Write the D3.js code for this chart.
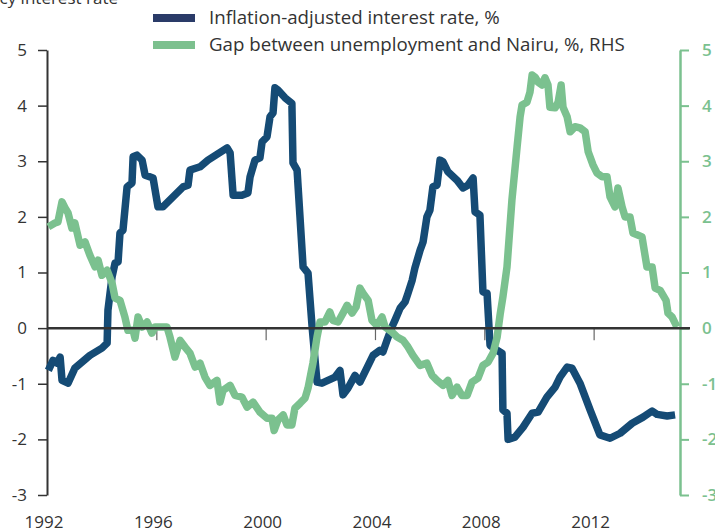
<!DOCTYPE html>
<html>
<head>
<meta charset="utf-8">
<script src="https://cdn.jsdelivr.net/npm/d3@7"></script>
<style>
  body { margin: 0; background: #fff; }
  svg { font-family: "Open Sans", sans-serif; }
</style>
</head>
<body>
<div id="chart"></div>
<script>
// Inflation-adjusted interest rate, % (left axis), decimal years
var rateDates = [1992.05, 1992.22, 1992.37, 1992.48, 1992.55, 1992.77, 1993.02, 1993.57, 1994.01, 1994.20,
  1994.23, 1994.38, 1994.49, 1994.60, 1994.67, 1994.78, 1994.93, 1995.11, 1995.15, 1995.29,
  1995.48, 1995.59, 1995.88, 1996.06, 1996.24, 1996.98, 1997.16, 1997.23, 1997.60, 1997.89,
  1998.59, 1998.70, 1998.81, 1999.13, 1999.35, 1999.43, 1999.61, 1999.79, 1999.87, 2000.05,
  2000.16, 2000.27, 2000.34, 2000.45, 2000.71, 2000.96, 2001.00, 2001.15, 2001.37, 2001.55,
  2001.70, 2001.88, 2002.06, 2002.28, 2002.54, 2002.72, 2002.83, 2003.01, 2003.27, 2003.45,
  2003.93, 2004.18, 2004.29, 2004.44, 2004.62, 2004.73, 2004.92, 2005.10, 2005.21, 2005.36,
  2005.46, 2005.65, 2005.76, 2005.90, 2006.01, 2006.12, 2006.27, 2006.38, 2006.49, 2006.67,
  2007.00, 2007.22, 2007.40, 2007.59, 2007.66, 2007.84, 2007.95, 2008.10, 2008.21, 2008.47,
  2008.65, 2008.68, 2008.83, 2008.87, 2009.12, 2009.42, 2009.75, 2009.97, 2010.29, 2010.59,
  2010.77, 2011.03, 2011.21, 2011.50, 2011.87, 2012.23, 2012.60, 2012.97, 2013.41, 2013.81,
  2014.14, 2014.32, 2014.69, 2014.98];
var rateValues = [-0.76, -0.58, -0.63, -0.52, -0.94, -0.99, -0.72, -0.49, -0.36, -0.27,
  0.32, 0.92, 1.17, 1.19, 1.71, 1.76, 2.54, 2.61, 3.08, 3.11,
  3.02, 2.75, 2.70, 2.18, 2.18, 2.54, 2.57, 2.84, 2.90, 3.02,
  3.24, 3.15, 2.39, 2.39, 2.43, 2.72, 3.02, 3.06, 3.35, 3.44,
  3.80, 3.87, 4.32, 4.28, 4.14, 4.04, 2.97, 2.84, 1.10, 0.99,
  0.02, -0.97, -0.99, -0.94, -0.88, -0.76, -1.20, -1.08, -0.85, -0.97,
  -0.49, -0.40, -0.43, -0.22, 0.02, 0.14, 0.36, 0.47, 0.63, 0.86,
  1.08, 1.40, 1.55, 2.00, 2.12, 2.54, 2.57, 3.02, 2.99, 2.81,
  2.66, 2.52, 2.57, 2.70, 2.09, 2.03, 0.65, 0.63, -0.31, -0.40,
  -0.45, -1.47, -1.53, -2.00, -1.96, -1.78, -1.53, -1.51, -1.24, -1.06,
  -0.88, -0.70, -0.72, -0.99, -1.47, -1.92, -1.98, -1.89, -1.71, -1.60,
  -1.49, -1.55, -1.58, -1.56];

// Gap between unemployment and Nairu, % (right axis)
var gapDates = [1992.05, 1992.29, 1992.40, 1992.55, 1992.66, 1992.77, 1992.91, 1993.02, 1993.21, 1993.39,
  1993.57, 1993.76, 1993.87, 1994.01, 1994.20, 1994.38, 1994.49, 1994.67, 1994.85, 1994.96,
  1995.15, 1995.22, 1995.33, 1995.48, 1995.66, 1995.84, 1995.95, 1996.21, 1996.39, 1996.50,
  1996.68, 1996.87, 1997.05, 1997.23, 1997.42, 1997.60, 1997.78, 1997.96, 1998.22, 1998.33,
  1998.44, 1998.70, 1998.88, 1999.13, 1999.32, 1999.54, 1999.79, 2000.05, 2000.23, 2000.31,
  2000.45, 2000.64, 2000.78, 2000.96, 2001.07, 2001.26, 2001.44, 2001.55, 2001.73, 2001.88,
  2001.99, 2002.17, 2002.35, 2002.46, 2002.65, 2002.83, 2002.98, 2003.16, 2003.31, 2003.45,
  2003.56, 2003.75, 2003.89, 2004.07, 2004.26, 2004.37, 2004.62, 2004.81, 2005.03, 2005.21,
  2005.39, 2005.65, 2005.90, 2006.09, 2006.27, 2006.49, 2006.67, 2006.82, 2007.00, 2007.18,
  2007.37, 2007.55, 2007.77, 2007.95, 2008.14, 2008.32, 2008.47, 2008.58, 2008.68, 2008.83,
  2009.01, 2009.20, 2009.31, 2009.38, 2009.56, 2009.67, 2009.75, 2009.86, 2009.97, 2010.11,
  2010.22, 2010.33, 2010.40, 2010.59, 2010.70, 2010.81, 2010.88, 2011.03, 2011.14, 2011.32,
  2011.50, 2011.69, 2011.80, 2011.98, 2012.12, 2012.31, 2012.49, 2012.60, 2012.78, 2012.89,
  2013.04, 2013.15, 2013.33, 2013.44, 2013.77, 2013.95, 2014.14, 2014.25, 2014.43, 2014.65,
  2014.72, 2014.87, 2014.98, 2015.05];
var gapValues = [1.82, 1.89, 1.91, 2.27, 2.16, 2.07, 1.80, 1.89, 1.49, 1.55,
  1.31, 1.10, 1.22, 0.95, 1.04, 0.81, 0.54, 0.50, 0.20, -0.04,
  -0.04, -0.18, 0.20, 0.02, 0.11, -0.09, 0.02, 0.02, 0.02, -0.16,
  -0.52, -0.22, -0.34, -0.45, -0.70, -0.63, -0.88, -1.03, -0.94, -1.33,
  -1.12, -1.03, -1.21, -1.24, -1.42, -1.33, -1.51, -1.62, -1.62, -1.84,
  -1.65, -1.56, -1.74, -1.74, -1.44, -1.35, -1.26, -1.08, -0.63, -0.16,
  0.11, 0.11, 0.29, 0.14, 0.11, 0.27, 0.41, 0.27, 0.38, 0.72,
  0.63, 0.50, 0.14, 0.05, 0.20, 0.02, -0.07, -0.16, -0.22, -0.34,
  -0.49, -0.67, -0.63, -0.85, -0.94, -1.03, -0.94, -1.21, -1.06, -1.21,
  -1.21, -0.97, -0.90, -0.67, -0.61, -0.45, -0.16, 0.25, 0.56, 1.10,
  2.30, 3.26, 3.80, 4.01, 4.06, 4.24, 4.55, 4.51, 4.42, 4.37,
  4.50, 4.37, 3.97, 3.96, 4.06, 4.37, 3.97, 3.80, 3.53, 3.62,
  3.60, 3.53, 3.17, 2.93, 2.79, 2.72, 2.72, 2.36, 2.18, 2.52,
  2.18, 2.00, 2.00, 1.71, 1.64, 1.10, 1.10, 0.72, 0.68, 0.50,
  0.27, 0.20, 0.09, 0.02];

var yearTicks = [1992, 1996, 2000, 2004, 2008, 2012];
var valueTicks = [-3, -2, -1, 0, 1, 2, 3, 4, 5];
var seriesNames = ["Inflation-adjusted interest rate, %", "Gap between unemployment and Nairu, %, RHS"];

function drawChart() {
    var width = 715, height = 532;
    var blue = "#154b75", green = "#7bc18f", ink = "#333333";

    var svg = d3.select("#chart").append("svg")
        .attr("width", width)
        .attr("height", height);

    var x = d3.scaleLinear().domain([1992, 2015.16]).range([47, 680]);
    var yLeft = d3.scaleLinear().domain([-3, 5]).range([495, 50]);
    var yRight = d3.scaleLinear().domain([-3, 5]).range([495, 50]);

    // plain hyphen for negatives, like the original
    var plain = function(d) { return String(d); };

    // axis title, cut by the top edge
    svg.append("text")
        .attr("x", 118).attr("y", 4)
        .attr("text-anchor", "end")
        .style("font-size", "17px")
        .style("fill", ink)
        .text("Real policy interest rate");

    // left axis
    var left = svg.append("g")
        .attr("transform", "translate(47,0)")
        .call(d3.axisLeft(yLeft).tickValues(valueTicks).tickFormat(plain)
            .tickSize(9).tickSizeOuter(0).tickPadding(11));
    left.select(".domain").attr("stroke", ink).attr("stroke-width", 2);
    left.selectAll(".tick line").attr("stroke", ink).attr("stroke-width", 1.5);
    left.selectAll(".tick text").style("font-size", "17px").style("fill", ink)
        .style("font-family", "'Open Sans', sans-serif");

    // right axis
    var right = svg.append("g")
        .attr("transform", "translate(680,0)")
        .call(d3.axisRight(yRight).tickValues(valueTicks).tickFormat(plain)
            .tickSize(9).tickSizeOuter(0).tickPadding(13));
    right.select(".domain").attr("stroke", green).attr("stroke-width", 2.5);
    right.selectAll(".tick line").attr("stroke", green).attr("stroke-width", 2);
    right.selectAll(".tick text").style("font-size", "17px").style("font-weight", "600")
        .style("fill", green).style("font-family", "'Open Sans', sans-serif");

    // year tick marks hanging off the zero line
    var xt = svg.append("g")
        .attr("transform", "translate(0," + yLeft(0) + ")")
        .call(d3.axisBottom(x).tickValues(yearTicks.slice(1)).tickSize(12).tickFormat(""));
    xt.select(".domain").remove();
    xt.selectAll(".tick line").attr("stroke", "#666").attr("stroke-width", 1.2);

    // year labels at the bottom
    svg.append("g").selectAll("text")
        .data(yearTicks)
        .enter()
        .append("text")
        .attr("x", function(d) { return x(d) - 3; })
        .attr("y", 528)
        .attr("text-anchor", "middle")
        .style("font-size", "17px")
        .style("fill", ink)
        .text(function(d) { return d; });

    var rateData = d3.zip(rateDates, rateValues);
    var gapData = d3.zip(gapDates, gapValues);

    var rateLine = d3.line()
        .x(function(d) { return x(d[0]); })
        .y(function(d) { return yLeft(d[1]); });
    var gapLine = d3.line()
        .x(function(d) { return x(d[0]); })
        .y(function(d) { return yRight(d[1]); });

    svg.append("path")
        .datum(rateData)
        .attr("d", rateLine)
        .attr("fill", "none")
        .attr("stroke", blue)
        .attr("stroke-width", 7.5)
        .attr("stroke-linejoin", "round");

    svg.append("path")
        .datum(gapData)
        .attr("d", gapLine)
        .attr("fill", "none")
        .attr("stroke", green)
        .attr("stroke-width", 7.5)
        .attr("stroke-linejoin", "round");

    // zero line
    svg.append("line")
        .attr("x1", 47).attr("x2", 690)
        .attr("y1", yLeft(0)).attr("y2", yLeft(0))
        .attr("stroke", ink)
        .attr("stroke-width", 2.5);

    // legend
    var legendColors = ["#2a3b68", "#7cc08e"];
    var legend = svg.append("g").selectAll("g")
        .data(seriesNames)
        .enter()
        .append("g")
        .attr("transform", function(d, i) { return "translate(153," + (14 + i * 27) + ")"; });
    legend.append("rect")
        .attr("width", 42).attr("height", 8)
        .attr("fill", function(d, i) { return legendColors[i]; });
    legend.append("text")
        .attr("x", 56).attr("y", 10)
        .style("font-size", "18.7px")
        .style("fill", ink)
        .text(function(d) { return d; });
}

drawChart();
</script>
</body>
</html>
